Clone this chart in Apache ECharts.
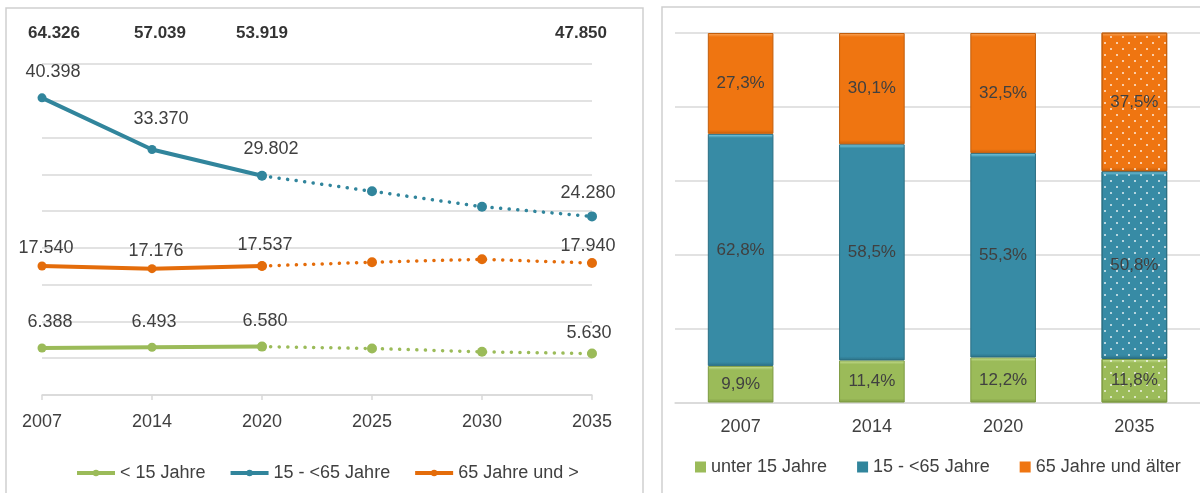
<!DOCTYPE html>
<html>
<head>
<meta charset="utf-8">
<script src="https://cdn.jsdelivr.net/npm/echarts@6/dist/echarts.min.js"></script>
<style>
html,body{margin:0;padding:0;background:#fff;}
#chart{width:1200px;height:493px;}
</style>
</head>
<body>
<div id="chart"></div>
<script>
// ---- Data (left: absolute numbers) ----
const years = ['2007', '2014', '2020', '2025', '2030', '2035'];
const under15 = [6388, 6493, 6580, 6320, 5870, 5630];
const working = [40398, 33370, 29802, 27700, 25600, 24280];
const senior = [17540, 17176, 17537, 18050, 18450, 17940];
const totals = [64326, 57039, 53919, null, null, 47850];
const lastObservedIndex = 2; // 2020: solid up to here, dotted projection afterwards
const lineNames = ['< 15 Jahre', '15 - <65 Jahre', '65 Jahre und >'];

// ---- Data (right: shares in %) ----
const barYears = ['2007', '2014', '2020', '2035'];
const shareUnder15 = [9.9, 11.4, 12.2, 11.8];
const shareWorking = [62.8, 58.5, 55.3, 50.8];
const shareSenior = [27.3, 30.1, 32.5, 37.5];
const barNames = ['unter 15 Jahre', '15 - <65 Jahre', '65 Jahre und älter'];
const projectedBarIndex = 3;

// ---- Styling ----
const FONT = "'Liberation Sans', Arial, Helvetica, sans-serif";
const TXT = '#404040';
const GRID = '#d9d9d9';
const lineColors = ['#9BBB59', '#31859C', '#E46C0A'];
const barColors = ['#9BBB59', '#378BA5', '#EF7511'];
const barLight = ['#CDE59A', '#86D6EE', '#FBAA62'];
const barDark = ['#7E9C45', '#2C7187', '#C9600C'];
const barBorders = ['#7C9A40', '#2A6E82', '#C25E0C'];
const BAR_GRID_HEIGHT = 369.5;

// label placement (centre offset from point) for the labelled points
const labelOffsets = [
  {0: [8, -26], 1: [2, -25], 2: [3, -26], 5: [-3, -21]},
  {0: [11, -26], 1: [9, -31], 2: [9, -27], 5: [-4, -23]},
  {0: [4, -18], 1: [4, -18], 2: [3, -21], 5: [-4, -17]}
];
const totalOffsets = {0: [12, -31], 1: [8, -31], 2: [0, -31], 5: [-11, -31]};

function fmtDE(v) {
  return String(Math.round(v)).replace(/\B(?=(\d{3})+(?!\d))/g, '.');
}
function fmtPct(v) {
  return v.toFixed(1).replace('.', ',') + '%';
}
function bevel(s, v) {
  const h = Math.max(8, v / 100 * BAR_GRID_HEIGHT);
  const a = 4 / h, b = 4 / h;
  return {
    type: 'linear', x: 0, y: 0, x2: 0, y2: 1,
    colorStops: [
      {offset: 0, color: barLight[s]},
      {offset: a, color: barColors[s]},
      {offset: 1 - b, color: barColors[s]},
      {offset: 1, color: barDark[s]}
    ]
  };
}

const lineData = [under15, working, senior];
const series = [];

// solid (observed) series
lineData.forEach((arr, s) => {
  series.push({
    name: lineNames[s], type: 'line', xAxisIndex: 0, yAxisIndex: 0,
    z: 3 + s,
    symbol: 'circle', symbolSize: 9,
    itemStyle: {color: lineColors[s]},
    lineStyle: {color: lineColors[s], width: 4},
    data: arr.map((v, i) => {
      if (i > lastObservedIndex) return null;
      return {
        value: v,
        label: {show: true, position: 'inside', offset: labelOffsets[s][i],
          formatter: p => fmtDE(p.value), color: TXT, fontSize: 18, fontFamily: FONT}
      };
    })
  });
});
// dotted (projection) series
lineData.forEach((arr, s) => {
  series.push({
    name: lineNames[s], type: 'line', xAxisIndex: 0, yAxisIndex: 0,
    z: 2,
    symbol: 'circle', symbolSize: 10,
    itemStyle: {color: lineColors[s]},
    lineStyle: {color: lineColors[s], width: 3.5, type: [0.1, 8.5], cap: 'round'},
    data: arr.map((v, i) => {
      if (i < lastObservedIndex) return null;
      const off = labelOffsets[s][i];
      const showLbl = i > lastObservedIndex && !!off;
      return {
        value: v,
        label: {show: showLbl, position: 'inside', offset: off || [0, 0],
          formatter: p => fmtDE(p.value), color: TXT, fontSize: 18, fontFamily: FONT}
      };
    })
  });
});
// totals above the chart
series.push({
  name: 'Gesamt', type: 'scatter', xAxisIndex: 0, yAxisIndex: 0,
  symbolSize: 0, clip: false, silent: true,
  data: totals.map((t, i) => t == null ? null : {
    value: [i, 45000],
    label: {show: true, position: 'inside', offset: totalOffsets[i],
      formatter: () => fmtDE(t), color: '#000', fontWeight: 'bold', fontSize: 17, fontFamily: FONT}
  })
});

// bars
[shareUnder15, shareWorking, shareSenior].forEach((arr, s) => {
  series.push({
    name: barNames[s], type: 'bar', stack: 'share', xAxisIndex: 1, yAxisIndex: 1,
    barCategoryGap: '50%',
    itemStyle: {color: barColors[s], borderColor: barBorders[s], borderWidth: 1},
    label: {show: true, position: 'inside', formatter: p => fmtPct(p.value),
      color: TXT, fontSize: 17, fontFamily: FONT},
    data: arr.map((v, i) => {
      const item = {value: v, itemStyle: {color: bevel(s, v)}};
      if (i === projectedBarIndex) {
        item.itemStyle.decal = {
          symbol: 'circle', symbolSize: 1, color: 'rgba(255,255,255,0.85)',
          dashArrayX: [[2, 10], [0, 6, 2, 4]], dashArrayY: [2, 4]
        };
      }
      return item;
    })
  });
});

const option = {
  animation: false,
  backgroundColor: '#fff',
  textStyle: {fontFamily: FONT},
  graphic: [
    {type: 'rect', shape: {x: 6, y: 8, width: 637, height: 520}, style: {fill: 'none', stroke: '#cfcfcf', lineWidth: 1.5}, z: -1},
    {type: 'rect', shape: {x: 662, y: 7, width: 600, height: 520}, style: {fill: 'none', stroke: '#cfcfcf', lineWidth: 1.5}, z: -1}
  ],
  grid: [
    {left: 42, width: 550, top: 64, height: 331},
    {left: 675, right: -5, top: 33, height: BAR_GRID_HEIGHT}
  ],
  legend: [
    {
      data: lineNames, left: 75, top: 464, padding: 0, itemWidth: 38, itemHeight: 8, itemGap: 23,
      lineStyle: {width: 4},
      textStyle: {color: TXT, fontSize: 18, fontFamily: FONT}
    },
    {
      data: barNames, left: 695, top: 458, padding: 0, itemWidth: 11, itemHeight: 11, itemGap: 30,
      icon: 'rect',
      itemStyle: {borderWidth: 0},
      textStyle: {color: TXT, fontSize: 18, fontFamily: FONT}
    }
  ],
  xAxis: [
    {
      gridIndex: 0, type: 'category', data: years, boundaryGap: false,
      axisLine: {lineStyle: {color: GRID, width: 1.5}},
      axisTick: {show: true, length: 5, inside: false, lineStyle: {color: GRID, width: 1.5}},
      axisLabel: {color: TXT, fontSize: 18, margin: 18, fontFamily: FONT}
    },
    {
      gridIndex: 1, type: 'category', data: barYears,
      axisLine: {lineStyle: {color: GRID, width: 1.5}},
      axisTick: {show: false},
      axisLabel: {color: TXT, fontSize: 18, margin: 16, fontFamily: FONT}
    }
  ],
  yAxis: [
    {
      gridIndex: 0, type: 'value', min: 0, max: 45000, interval: 5000,
      axisLine: {show: false}, axisTick: {show: false}, axisLabel: {show: false},
      splitLine: {lineStyle: {color: GRID, width: 1.5}}
    },
    {
      gridIndex: 1, type: 'value', min: 0, max: 100, interval: 20,
      axisLine: {show: false}, axisTick: {show: false}, axisLabel: {show: false},
      splitLine: {lineStyle: {color: GRID, width: 1.5}}
    }
  ],
  series: series
};

const chart = echarts.init(document.getElementById('chart'), null, {renderer: 'canvas'});
chart.setOption(option);
</script>
</body>
</html>
